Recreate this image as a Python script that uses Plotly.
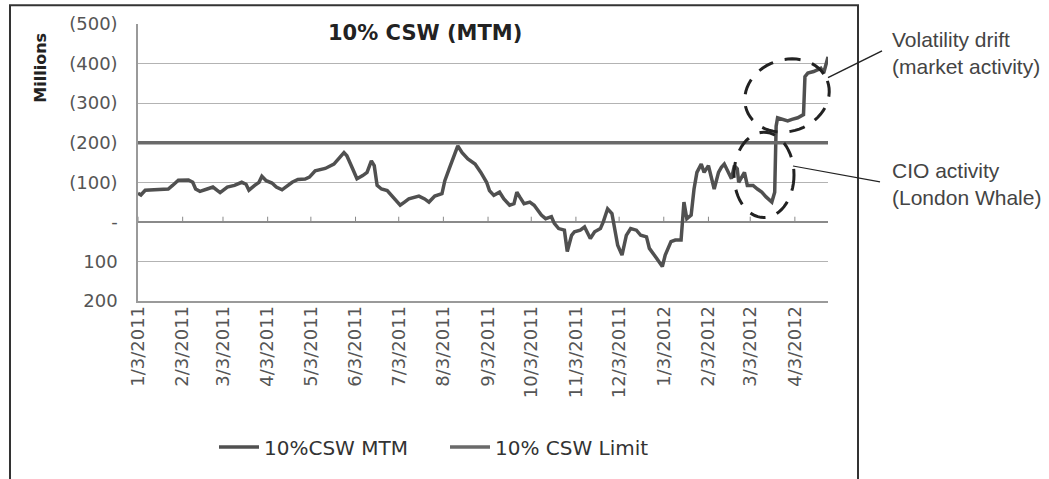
import math
import plotly.graph_objects as go

# ---------------- data (values in $ millions; negative = shown in parentheses) ----------------
mtm_dates = [
    "2011-01-03", "2011-01-05", "2011-01-08", "2011-01-15", "2011-01-24", "2011-01-27", "2011-01-31",
    "2011-02-07", "2011-02-10", "2011-02-12", "2011-02-15", "2011-02-20", "2011-02-24", "2011-03-01",
    "2011-03-03", "2011-03-06", "2011-03-11", "2011-03-16", "2011-03-19", "2011-03-21", "2011-03-25",
    "2011-03-28", "2011-03-30", "2011-04-02", "2011-04-06", "2011-04-09", "2011-04-13", "2011-04-17",
    "2011-04-20", "2011-04-24", "2011-04-29", "2011-05-02", "2011-05-06", "2011-05-13", "2011-05-19",
    "2011-05-26", "2011-05-28", "2011-06-01", "2011-06-04", "2011-06-08", "2011-06-11", "2011-06-14",
    "2011-06-16", "2011-06-18", "2011-06-21", "2011-06-25", "2011-06-28", "2011-07-04", "2011-07-07",
    "2011-07-10", "2011-07-17", "2011-07-21", "2011-07-24", "2011-07-28", "2011-08-02", "2011-08-04",
    "2011-08-07", "2011-08-11", "2011-08-13", "2011-08-16", "2011-08-20", "2011-08-25", "2011-08-29",
    "2011-09-02", "2011-09-04", "2011-09-07", "2011-09-11", "2011-09-14", "2011-09-18", "2011-09-21",
    "2011-09-23", "2011-09-25", "2011-09-28", "2011-10-02", "2011-10-05", "2011-10-10", "2011-10-13",
    "2011-10-17", "2011-10-19", "2011-10-22", "2011-10-26", "2011-10-28", "2011-10-31", "2011-11-02",
    "2011-11-06", "2011-11-09", "2011-11-13", "2011-11-16", "2011-11-20", "2011-11-22", "2011-11-25",
    "2011-11-28", "2011-11-30", "2011-12-02", "2011-12-05", "2011-12-08", "2011-12-11", "2011-12-15",
    "2011-12-18", "2011-12-22", "2011-12-24", "2011-12-27", "2011-12-29", "2012-01-02", "2012-01-04",
    "2012-01-08", "2012-01-11", "2012-01-15", "2012-01-16", "2012-01-17", "2012-01-19", "2012-01-22",
    "2012-01-24", "2012-01-26", "2012-01-29", "2012-01-31", "2012-02-03", "2012-02-05", "2012-02-07",
    "2012-02-10", "2012-02-12", "2012-02-14", "2012-02-17", "2012-02-19", "2012-02-21", "2012-02-23",
    "2012-02-24", "2012-02-28", "2012-03-01", "2012-03-05", "2012-03-08", "2012-03-11", "2012-03-14",
    "2012-03-18", "2012-03-20", "2012-03-21", "2012-03-22", "2012-03-25", "2012-03-29", "2012-04-01",
    "2012-04-05", "2012-04-09", "2012-04-10", "2012-04-12", "2012-04-16", "2012-04-21", "2012-04-23",
    "2012-04-26",
]
mtm_values = [
    -72, -68, -80, -81, -83, -92, -105,
    -106, -100, -83, -77, -83, -88, -74,
    -79, -88, -92, -100, -95, -80, -92,
    -100, -115, -104, -98, -88, -81, -92,
    -100, -107, -108, -113, -129, -135, -146,
    -175, -167, -134, -109, -117, -125, -154,
    -142, -92, -83, -79, -67, -42, -50,
    -58, -65, -58, -50, -65, -71, -104,
    -134, -175, -192, -175, -159, -146, -125,
    -100, -79, -67, -75, -58, -42, -46,
    -75, -63, -46, -50, -42, -17, -8,
    -13, 4, 17, 21, 75, 34, 25,
    21, 13, 42, 25, 17, 0, -33,
    -21, 17, 59, 84, 34, 17, 21,
    34, 38, 67, 84, 92, 113, 84,
    50, 46, 46, -8, -50, -8, -17,
    -83, -125, -146, -125, -142, -109, -83,
    -125, -138, -146, -125, -109, -142, -134,
    -100, -125, -92, -92, -83, -75, -63,
    -50, -75, -242, -263, -259, -255, -259,
    -263, -271, -367, -376, -380, -388, -376,
    -417,
]
limit_dates = ["2011-01-03", "2012-04-26"]
limit_values = [-200, -200]

x_tick_dates = [
    "2011-01-03", "2011-02-03", "2011-03-03", "2011-04-03", "2011-05-03", "2011-06-03",
    "2011-07-03", "2011-08-03", "2011-09-03", "2011-10-03", "2011-11-03", "2011-12-03",
    "2012-01-03", "2012-02-03", "2012-03-03", "2012-04-03",
]
x_tick_labels = [
    "1/3/2011", "2/3/2011", "3/3/2011", "4/3/2011", "5/3/2011", "6/3/2011",
    "7/3/2011", "8/3/2011", "9/3/2011", "10/3/2011", "11/3/2011", "12/3/2011",
    "1/3/2012", "2/3/2012", "3/3/2012", "4/3/2012",
]
y_tick_values = [-500, -400, -300, -200, -100, 0, 100, 200]
y_tick_labels = ["(500)", "(400)", "(300)", "(200)", "(100)", "-", "100", "200"]

series_names = ["10%CSW MTM", "10% CSW Limit"]
chart_title = "10% CSW (MTM)"
y_title = "Millions"
note_vol = "Volatility drift<br>(market activity)"
note_cio = "CIO activity<br>(London Whale)"

# ---------------- layout helpers (pixel -> paper) ----------------
W, H = 1049, 479
PL, PR, PT, PB = 138, 828, 24, 303
TICK_LEN = -13  # small month tick marks drawn upward from the zero line


def px(x):
    return (x - PL) / (PR - PL)


def py(y):
    return (PB - y) / (PB - PT)


def ellipse_path(cx, cy, rx, ry, ang_deg, n=60):
    a = math.radians(ang_deg)
    pts = []
    for i in range(n + 1):
        t = 2 * math.pi * i / n
        ex, ey = rx * math.cos(t), ry * math.sin(t)
        x = cx + ex * math.cos(a) + ey * math.sin(a)
        y = cy - ex * math.sin(a) + ey * math.cos(a)
        pts.append((px(x), py(y)))
    d = "M %.5f,%.5f " % pts[0] + " ".join("L %.5f,%.5f" % p for p in pts[1:]) + " Z"
    return d


FONT = "DejaVu Sans"

fig = go.Figure()
fig.add_trace(go.Scatter(
    x=mtm_dates, y=mtm_values, mode="lines", name=series_names[0],
    line=dict(color="#505050", width=3.5),
))
fig.add_trace(go.Scatter(
    x=limit_dates, y=limit_values, mode="lines", name=series_names[1],
    line=dict(color="#6a6a6a", width=3.5),
))
# month tick marks on the zero line
tick_x, tick_y = [], []
for d in x_tick_dates:
    tick_x += [d, d, None]
    tick_y += [0, TICK_LEN, None]
fig.add_trace(go.Scatter(x=tick_x, y=tick_y, mode="lines", showlegend=False,
                         hoverinfo="skip", line=dict(color="#8a8a8a", width=1)))

shapes = []
# outer chart border
shapes.append(dict(type="path", xref="paper", yref="paper",
                   path="M %.5f,%.5f L %.5f,%.5f L %.5f,%.5f L %.5f,%.5f" % (
                       px(10), py(490), px(10), py(5), px(858), py(5), px(858), py(490)),
                   line=dict(color="#333333", width=2)))
# dashed ellipses
for (cx, cy, rx, ry, ang) in [(787, 96, 43, 36, 20), (764, 176, 30, 43, 0)]:
    shapes.append(dict(type="path", xref="paper", yref="paper",
                       path=ellipse_path(cx, cy, rx, ry, ang),
                       line=dict(color="#222222", width=3, dash="16px,12px")))
# leader lines
shapes.append(dict(type="line", xref="paper", yref="paper",
                   x0=px(828), y0=py(78), x1=px(882), y1=py(51),
                   line=dict(color="#222222", width=1.5)))
shapes.append(dict(type="line", xref="paper", yref="paper",
                   x0=px(793), y0=py(167), x1=px(880), y1=py(183),
                   line=dict(color="#222222", width=1.2)))

annotations = []
annotations.append(dict(text="<b>%s</b>" % chart_title, xref="paper", yref="paper",
                        x=px(425), y=py(33), xanchor="center", yanchor="middle",
                        showarrow=False, font=dict(family=FONT, size=21, color="#222222")))
annotations.append(dict(text="<b>%s</b>" % y_title, xref="paper", yref="paper",
                        x=px(41), y=py(68), xanchor="center", yanchor="middle", textangle=-90,
                        showarrow=False, font=dict(family=FONT, size=16, color="#222222")))
annotations.append(dict(text=note_vol, xref="paper", yref="paper", x=px(890), y=py(53),
                        xanchor="left", yanchor="middle", align="left", showarrow=False,
                        font=dict(family="Liberation Sans", size=21, color="#444444")))
annotations.append(dict(text=note_cio, xref="paper", yref="paper", x=px(890), y=py(185),
                        xanchor="left", yanchor="middle", align="left", showarrow=False,
                        font=dict(family="Liberation Sans", size=21, color="#444444")))

fig.update_layout(
    width=W, height=H,
    margin=dict(l=PL, r=W - PR, t=PT, b=H - PB),
    paper_bgcolor="white", plot_bgcolor="white",
    showlegend=True,
    legend=dict(orientation="h", x=px(445), y=py(450), xanchor="center", yanchor="middle",
                font=dict(family=FONT, size=20, color="#333333"), itemwidth=40,
                entrywidth=176, entrywidthmode="pixels",
                bgcolor="rgba(0,0,0,0)"),
    shapes=shapes, annotations=annotations,
)
fig.update_xaxes(
    type="date", range=["2011-01-03", "2012-04-26"],
    tickvals=x_tick_dates, ticktext=x_tick_labels, tickangle=-90,
    tickfont=dict(family=FONT, size=18, color="#555555"),
    ticks="", ticklabelstandoff=-4,
    showgrid=False, zeroline=False,
    showline=True, linecolor="#9a9a9a", linewidth=1.5,
)
fig.update_yaxes(
    range=[200, -500], tickvals=y_tick_values, ticktext=y_tick_labels,
    tickfont=dict(family=FONT, size=18, color="#555555"),
    ticks="", ticklabelstandoff=15,
    showgrid=True, gridcolor="#b3b3b3", gridwidth=1,
    zeroline=True, zerolinecolor="#8a8a8a", zerolinewidth=1.5,
    showline=True, linecolor="#9a9a9a", linewidth=1.5,
)

fig.write_html(
    "out.html",
    config={"displayModeBar": False},
    post_script="document.body.style.margin='0';document.body.style.padding='0';"
                "document.body.style.overflow='hidden';",
)
